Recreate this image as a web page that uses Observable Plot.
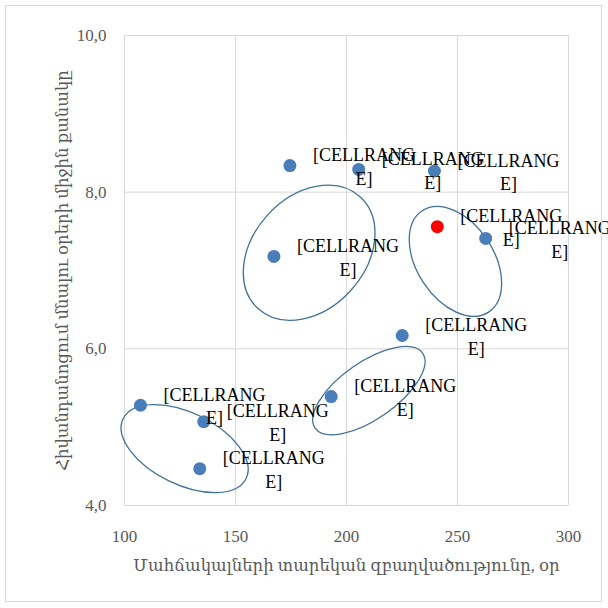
<!DOCTYPE html>
<html><head><meta charset="utf-8">
<script src="https://cdn.jsdelivr.net/npm/d3@7"></script>
<script src="https://cdn.jsdelivr.net/npm/@observablehq/plot@0.6"></script>
<style>
body{margin:0;background:#fff;}
#wrap{position:relative;width:608px;height:608px;}
#frame{position:absolute;left:5px;top:5px;width:597px;height:597px;border:1px solid #d9d9d9;box-sizing:border-box;pointer-events:none;}
#wrap svg text{white-space:pre;}
</style></head>
<body><div id="wrap"><div id="frame"></div></div>
<script>
// Data
const xTicks = [100, 150, 200, 250, 300];
const yTicks = [4, 6, 8, 10];
const days = [107.2, 135.7, 133.9, 193.1, 225.1, 167.3, 174.5, 205.5, 239.6, 262.7];
const stay = [5.28, 5.07, 4.47, 5.39, 6.17, 7.18, 8.34, 8.29, 8.27, 7.41];
const redDays = [240.9];
const redStay = [7.56];
const labelText = "[CELLRANG\nE]";
const xTitle = "Մահճակալների տարեկան զբաղվածությունը, օր";
const yTitle = "Հիվանդանոցում մնալու օրերի միջին քանակը";
// annotation ellipses (centre in data units, semi-axes in days, rotation in degrees)
const ellCx = [127.3, 210.3, 183.4, 249.3];
const ellCy = [4.72, 5.46, 7.22, 7.11];
const ellA = [30.8, 29.5, 34.1, 27.3];
const ellB = [16.2, 12.8, 25.3, 17.3];
const ellAngle = [25.9, -34.9, -47.5, 56.8];

const blue = days.map((d, i) => ({x: d, y: stay[i]}));
const red = redDays.map((d, i) => ({x: d, y: redStay[i]}));
const all = blue.concat(red);

const serif = "'Liberation Serif', 'DejaVu Serif', serif";

const ellipses = (index, scales) => {
  const g = d3.create("svg:g");
  const k = Math.abs(scales.x(101) - scales.x(100));
  ellCx.forEach((cx, i) => {
    g.append("ellipse")
      .attr("cx", 0).attr("cy", 0)
      .attr("rx", ellA[i] * k).attr("ry", ellB[i] * k)
      .attr("transform", `translate(${scales.x(cx)},${scales.y(ellCy[i])}) rotate(${ellAngle[i]})`)
      .attr("fill", "none").attr("stroke", "#41719c").attr("stroke-width", 1.3);
  });
  return g.node();
};

const chart = Plot.plot({
  width: 608, height: 608,
  marginLeft: 124, marginRight: 40, marginTop: 35, marginBottom: 103,
  style: {fontFamily: serif, background: "transparent", color: "#595959", overflow: "visible"},
  x: {domain: [100, 300]},
  y: {domain: [4, 10]},
  marks: [
    Plot.gridX(xTicks, {stroke: "#d9d9d9", strokeOpacity: 1}),
    Plot.gridY(yTicks, {stroke: "#d9d9d9", strokeOpacity: 1}),
    Plot.axisX(xTicks, {tickSize: 0, tickPadding: 24, fontSize: 17, label: null}),
    Plot.axisY(yTicks, {tickSize: 0, tickPadding: 18, fontSize: 17, label: null, tickFormat: d => d.toFixed(1).replace(".", ",")}),
    ellipses,
    Plot.dot(blue, {x: "x", y: "y", r: 6.5, fill: "#4a7ebb"}),
    Plot.dot(red, {x: "x", y: "y", r: 6.5, fill: "#ff0000"}),
    Plot.text(all, {x: "x", y: "y", text: () => labelText, fontSize: 18, fill: "#000", dx: 74, textAnchor: "middle", lineAnchor: "middle", lineHeight: 1.3}),
    Plot.text([xTitle], {frameAnchor: "bottom", text: d => d, dy: 60, fontSize: 16.5, fill: "#595959", textAnchor: "middle", lineAnchor: "middle"}),
    Plot.text([yTitle], {frameAnchor: "left", text: d => d, dx: -62, rotate: -90, fontSize: 16.5, fill: "#595959", textAnchor: "middle", lineAnchor: "middle"})
  ]
});
document.getElementById("wrap").insertBefore(chart, document.getElementById("frame"));
</script>
</body></html>
